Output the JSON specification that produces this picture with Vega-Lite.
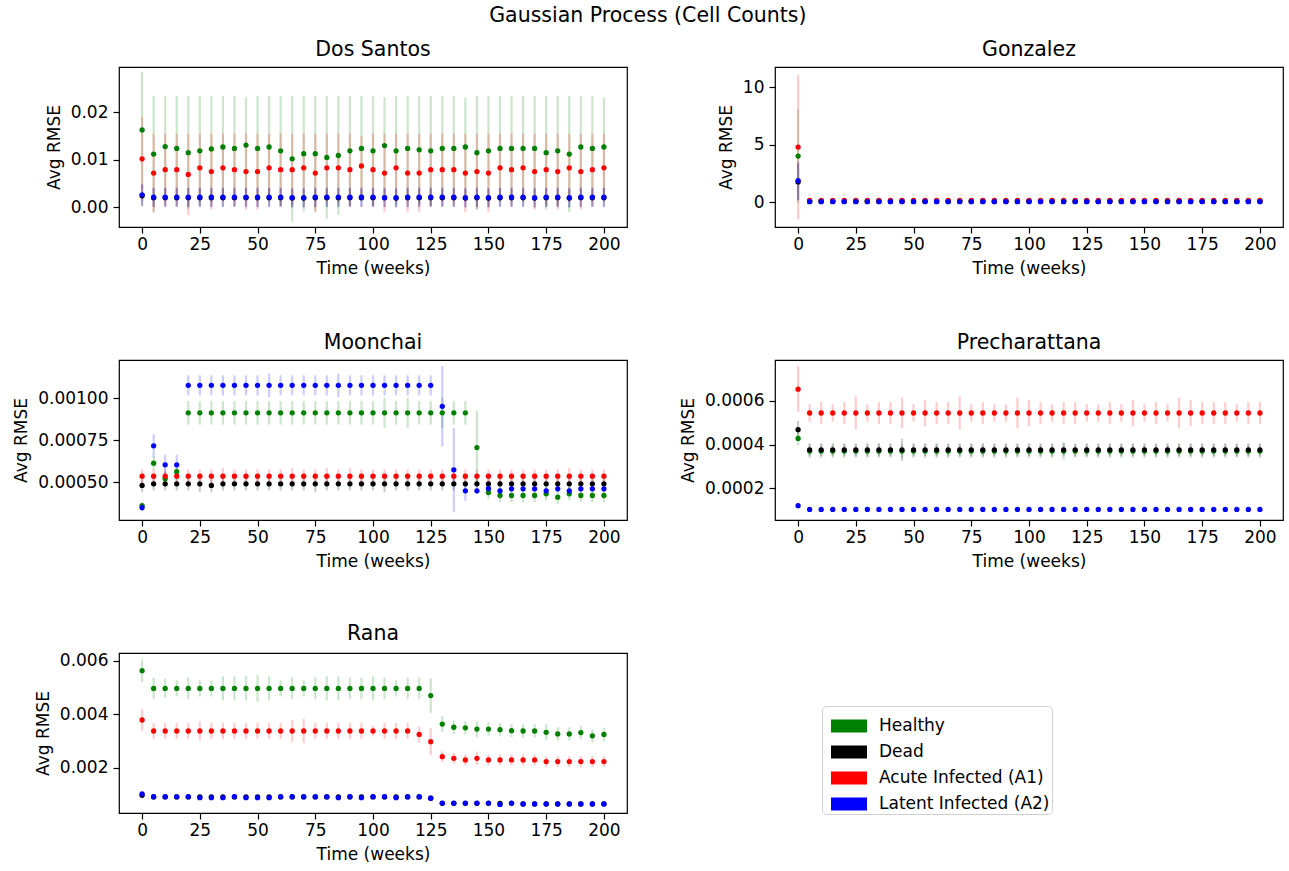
{
"$schema": "https://vega.github.io/schema/vega-lite/v6.json",
"background": "white",
"padding": {"left": 12, "top": 6, "right": 4, "bottom": 5},
"title": {"text": "Gaussian Process (Cell Counts)", "frame": "bounds", "anchor": "middle", "fontSize": 20.5, "fontWeight": "normal", "font": "DejaVu Sans", "color": "black", "offset": -4, "baseline": "alphabetic"},
"datasets": {
"DS": [
{"s":"H","t":0,"m":0.0163,"e":0.0123},{"s":"H","t":5,"m":0.0112,"e":0.0123},{"s":"H","t":10,"m":0.0128,"e":0.0107},{"s":"H","t":15,"m":0.0124,"e":0.0111},{"s":"H","t":20,"m":0.0115,"e":0.012},{"s":"H","t":25,"m":0.0119,"e":0.0116},{"s":"H","t":30,"m":0.0123,"e":0.0112},{"s":"H","t":35,"m":0.0127,"e":0.0108},{"s":"H","t":40,"m":0.0124,"e":0.0111},{"s":"H","t":45,"m":0.0131,"e":0.0101},{"s":"H","t":50,"m":0.0124,"e":0.0111},{"s":"H","t":55,"m":0.0127,"e":0.0108},{"s":"H","t":60,"m":0.0119,"e":0.0116},{"s":"H","t":65,"m":0.0102,"e":0.0133},{"s":"H","t":70,"m":0.0113,"e":0.0122},{"s":"H","t":75,"m":0.0113,"e":0.0122},{"s":"H","t":80,"m":0.0105,"e":0.013},{"s":"H","t":85,"m":0.0109,"e":0.0126},{"s":"H","t":90,"m":0.0119,"e":0.0116},{"s":"H","t":95,"m":0.0124,"e":0.0111},{"s":"H","t":100,"m":0.0119,"e":0.0116},{"s":"H","t":105,"m":0.013,"e":0.0102},{"s":"H","t":110,"m":0.0119,"e":0.0116},{"s":"H","t":115,"m":0.0124,"e":0.0111},{"s":"H","t":120,"m":0.0121,"e":0.0114},{"s":"H","t":125,"m":0.0119,"e":0.0116},{"s":"H","t":130,"m":0.0124,"e":0.0111},{"s":"H","t":135,"m":0.0124,"e":0.0111},{"s":"H","t":140,"m":0.0127,"e":0.0105},{"s":"H","t":145,"m":0.0115,"e":0.012},{"s":"H","t":150,"m":0.0119,"e":0.0116},{"s":"H","t":155,"m":0.0124,"e":0.0111},{"s":"H","t":160,"m":0.0124,"e":0.0111},{"s":"H","t":165,"m":0.0124,"e":0.0111},{"s":"H","t":170,"m":0.0124,"e":0.0111},{"s":"H","t":175,"m":0.0115,"e":0.012},{"s":"H","t":180,"m":0.0119,"e":0.0116},{"s":"H","t":185,"m":0.0112,"e":0.0123},{"s":"H","t":190,"m":0.0127,"e":0.0108},{"s":"H","t":195,"m":0.0124,"e":0.0111},{"s":"H","t":200,"m":0.0127,"e":0.0105},
{"s":"D","t":0,"m":0.0024,"e":0.0022},{"s":"D","t":5,"m":0.002,"e":0.002},{"s":"D","t":10,"m":0.002,"e":0.002},{"s":"D","t":15,"m":0.002,"e":0.002},{"s":"D","t":20,"m":0.002,"e":0.002},{"s":"D","t":25,"m":0.002,"e":0.002},{"s":"D","t":30,"m":0.002,"e":0.002},{"s":"D","t":35,"m":0.002,"e":0.002},{"s":"D","t":40,"m":0.002,"e":0.002},{"s":"D","t":45,"m":0.002,"e":0.002},{"s":"D","t":50,"m":0.002,"e":0.002},{"s":"D","t":55,"m":0.002,"e":0.002},{"s":"D","t":60,"m":0.002,"e":0.002},{"s":"D","t":65,"m":0.0019,"e":0.002},{"s":"D","t":70,"m":0.0019,"e":0.002},{"s":"D","t":75,"m":0.002,"e":0.002},{"s":"D","t":80,"m":0.002,"e":0.002},{"s":"D","t":85,"m":0.002,"e":0.002},{"s":"D","t":90,"m":0.002,"e":0.002},{"s":"D","t":95,"m":0.002,"e":0.002},{"s":"D","t":100,"m":0.002,"e":0.002},{"s":"D","t":105,"m":0.002,"e":0.002},{"s":"D","t":110,"m":0.0019,"e":0.002},{"s":"D","t":115,"m":0.002,"e":0.002},{"s":"D","t":120,"m":0.002,"e":0.002},{"s":"D","t":125,"m":0.002,"e":0.002},{"s":"D","t":130,"m":0.002,"e":0.002},{"s":"D","t":135,"m":0.002,"e":0.002},{"s":"D","t":140,"m":0.0019,"e":0.002},{"s":"D","t":145,"m":0.002,"e":0.002},{"s":"D","t":150,"m":0.0019,"e":0.002},{"s":"D","t":155,"m":0.002,"e":0.002},{"s":"D","t":160,"m":0.002,"e":0.002},{"s":"D","t":165,"m":0.002,"e":0.002},{"s":"D","t":170,"m":0.0019,"e":0.002},{"s":"D","t":175,"m":0.002,"e":0.002},{"s":"D","t":180,"m":0.002,"e":0.002},{"s":"D","t":185,"m":0.0019,"e":0.002},{"s":"D","t":190,"m":0.002,"e":0.002},{"s":"D","t":195,"m":0.002,"e":0.002},{"s":"D","t":200,"m":0.002,"e":0.002},
{"s":"A","t":0,"m":0.0102,"e":0.0089},{"s":"A","t":5,"m":0.0072,"e":0.0083},{"s":"A","t":10,"m":0.0079,"e":0.0076},{"s":"A","t":15,"m":0.0079,"e":0.0076},{"s":"A","t":20,"m":0.0069,"e":0.0086},{"s":"A","t":25,"m":0.0083,"e":0.0072},{"s":"A","t":30,"m":0.0075,"e":0.008},{"s":"A","t":35,"m":0.0083,"e":0.0072},{"s":"A","t":40,"m":0.0079,"e":0.0076},{"s":"A","t":45,"m":0.0075,"e":0.008},{"s":"A","t":50,"m":0.0075,"e":0.008},{"s":"A","t":55,"m":0.0083,"e":0.0072},{"s":"A","t":60,"m":0.0079,"e":0.0076},{"s":"A","t":65,"m":0.0079,"e":0.0076},{"s":"A","t":70,"m":0.0083,"e":0.0072},{"s":"A","t":75,"m":0.0072,"e":0.0083},{"s":"A","t":80,"m":0.0083,"e":0.0072},{"s":"A","t":85,"m":0.0083,"e":0.0072},{"s":"A","t":90,"m":0.0079,"e":0.0076},{"s":"A","t":95,"m":0.0087,"e":0.0063},{"s":"A","t":100,"m":0.0079,"e":0.0076},{"s":"A","t":105,"m":0.0072,"e":0.0083},{"s":"A","t":110,"m":0.0083,"e":0.0072},{"s":"A","t":115,"m":0.0072,"e":0.0083},{"s":"A","t":120,"m":0.0072,"e":0.0083},{"s":"A","t":125,"m":0.0079,"e":0.0076},{"s":"A","t":130,"m":0.0079,"e":0.0076},{"s":"A","t":135,"m":0.0079,"e":0.0076},{"s":"A","t":140,"m":0.0072,"e":0.0083},{"s":"A","t":145,"m":0.0075,"e":0.008},{"s":"A","t":150,"m":0.0072,"e":0.0083},{"s":"A","t":155,"m":0.0083,"e":0.0072},{"s":"A","t":160,"m":0.0079,"e":0.0076},{"s":"A","t":165,"m":0.0083,"e":0.0072},{"s":"A","t":170,"m":0.0075,"e":0.008},{"s":"A","t":175,"m":0.0079,"e":0.0076},{"s":"A","t":180,"m":0.0075,"e":0.008},{"s":"A","t":185,"m":0.0083,"e":0.0072},{"s":"A","t":190,"m":0.0075,"e":0.008},{"s":"A","t":195,"m":0.0079,"e":0.0076},{"s":"A","t":200,"m":0.0083,"e":0.0072},
{"s":"L","t":0,"m":0.0026,"e":0.0023},{"s":"L","t":5,"m":0.0021,"e":0.002},{"s":"L","t":10,"m":0.0021,"e":0.002},{"s":"L","t":15,"m":0.0021,"e":0.002},{"s":"L","t":20,"m":0.0021,"e":0.002},{"s":"L","t":25,"m":0.0021,"e":0.002},{"s":"L","t":30,"m":0.0021,"e":0.002},{"s":"L","t":35,"m":0.0021,"e":0.002},{"s":"L","t":40,"m":0.0021,"e":0.002},{"s":"L","t":45,"m":0.0021,"e":0.002},{"s":"L","t":50,"m":0.0021,"e":0.002},{"s":"L","t":55,"m":0.0021,"e":0.002},{"s":"L","t":60,"m":0.0021,"e":0.002},{"s":"L","t":65,"m":0.002,"e":0.002},{"s":"L","t":70,"m":0.002,"e":0.002},{"s":"L","t":75,"m":0.0021,"e":0.002},{"s":"L","t":80,"m":0.0021,"e":0.002},{"s":"L","t":85,"m":0.0021,"e":0.002},{"s":"L","t":90,"m":0.0021,"e":0.002},{"s":"L","t":95,"m":0.0021,"e":0.002},{"s":"L","t":100,"m":0.0021,"e":0.002},{"s":"L","t":105,"m":0.002,"e":0.002},{"s":"L","t":110,"m":0.002,"e":0.002},{"s":"L","t":115,"m":0.0021,"e":0.002},{"s":"L","t":120,"m":0.0021,"e":0.002},{"s":"L","t":125,"m":0.0021,"e":0.002},{"s":"L","t":130,"m":0.0021,"e":0.002},{"s":"L","t":135,"m":0.0021,"e":0.002},{"s":"L","t":140,"m":0.002,"e":0.002},{"s":"L","t":145,"m":0.0021,"e":0.002},{"s":"L","t":150,"m":0.002,"e":0.002},{"s":"L","t":155,"m":0.0021,"e":0.002},{"s":"L","t":160,"m":0.0021,"e":0.002},{"s":"L","t":165,"m":0.0021,"e":0.002},{"s":"L","t":170,"m":0.002,"e":0.002},{"s":"L","t":175,"m":0.0021,"e":0.002},{"s":"L","t":180,"m":0.0021,"e":0.002},{"s":"L","t":185,"m":0.002,"e":0.002},{"s":"L","t":190,"m":0.0021,"e":0.002},{"s":"L","t":195,"m":0.0021,"e":0.002},{"s":"L","t":200,"m":0.0021,"e":0.002}
],
"GZ": [
{"s":"H","t":0,"m":4.0,"e":4.05},{"s":"H","t":5,"m":0.1,"e":0.05},{"s":"H","t":10,"m":0.1,"e":0.05},{"s":"H","t":15,"m":0.1,"e":0.05},{"s":"H","t":20,"m":0.1,"e":0.05},{"s":"H","t":25,"m":0.1,"e":0.05},{"s":"H","t":30,"m":0.1,"e":0.05},{"s":"H","t":35,"m":0.1,"e":0.05},{"s":"H","t":40,"m":0.1,"e":0.05},{"s":"H","t":45,"m":0.1,"e":0.05},{"s":"H","t":50,"m":0.1,"e":0.05},{"s":"H","t":55,"m":0.1,"e":0.05},{"s":"H","t":60,"m":0.1,"e":0.05},{"s":"H","t":65,"m":0.1,"e":0.05},{"s":"H","t":70,"m":0.1,"e":0.05},{"s":"H","t":75,"m":0.1,"e":0.05},{"s":"H","t":80,"m":0.1,"e":0.05},{"s":"H","t":85,"m":0.1,"e":0.05},{"s":"H","t":90,"m":0.1,"e":0.05},{"s":"H","t":95,"m":0.1,"e":0.05},{"s":"H","t":100,"m":0.1,"e":0.05},{"s":"H","t":105,"m":0.1,"e":0.05},{"s":"H","t":110,"m":0.1,"e":0.05},{"s":"H","t":115,"m":0.1,"e":0.05},{"s":"H","t":120,"m":0.1,"e":0.05},{"s":"H","t":125,"m":0.1,"e":0.05},{"s":"H","t":130,"m":0.1,"e":0.05},{"s":"H","t":135,"m":0.1,"e":0.05},{"s":"H","t":140,"m":0.1,"e":0.05},{"s":"H","t":145,"m":0.1,"e":0.05},{"s":"H","t":150,"m":0.1,"e":0.05},{"s":"H","t":155,"m":0.1,"e":0.05},{"s":"H","t":160,"m":0.1,"e":0.05},{"s":"H","t":165,"m":0.1,"e":0.05},{"s":"H","t":170,"m":0.1,"e":0.05},{"s":"H","t":175,"m":0.1,"e":0.05},{"s":"H","t":180,"m":0.1,"e":0.05},{"s":"H","t":185,"m":0.1,"e":0.05},{"s":"H","t":190,"m":0.1,"e":0.05},{"s":"H","t":195,"m":0.1,"e":0.05},{"s":"H","t":200,"m":0.1,"e":0.05},
{"s":"D","t":0,"m":1.75,"e":1.6},{"s":"D","t":5,"m":0.05,"e":0.03},{"s":"D","t":10,"m":0.05,"e":0.03},{"s":"D","t":15,"m":0.05,"e":0.03},{"s":"D","t":20,"m":0.05,"e":0.03},{"s":"D","t":25,"m":0.05,"e":0.03},{"s":"D","t":30,"m":0.05,"e":0.03},{"s":"D","t":35,"m":0.05,"e":0.03},{"s":"D","t":40,"m":0.05,"e":0.03},{"s":"D","t":45,"m":0.05,"e":0.03},{"s":"D","t":50,"m":0.05,"e":0.03},{"s":"D","t":55,"m":0.05,"e":0.03},{"s":"D","t":60,"m":0.05,"e":0.03},{"s":"D","t":65,"m":0.05,"e":0.03},{"s":"D","t":70,"m":0.05,"e":0.03},{"s":"D","t":75,"m":0.05,"e":0.03},{"s":"D","t":80,"m":0.05,"e":0.03},{"s":"D","t":85,"m":0.05,"e":0.03},{"s":"D","t":90,"m":0.05,"e":0.03},{"s":"D","t":95,"m":0.05,"e":0.03},{"s":"D","t":100,"m":0.05,"e":0.03},{"s":"D","t":105,"m":0.05,"e":0.03},{"s":"D","t":110,"m":0.05,"e":0.03},{"s":"D","t":115,"m":0.05,"e":0.03},{"s":"D","t":120,"m":0.05,"e":0.03},{"s":"D","t":125,"m":0.05,"e":0.03},{"s":"D","t":130,"m":0.05,"e":0.03},{"s":"D","t":135,"m":0.05,"e":0.03},{"s":"D","t":140,"m":0.05,"e":0.03},{"s":"D","t":145,"m":0.05,"e":0.03},{"s":"D","t":150,"m":0.05,"e":0.03},{"s":"D","t":155,"m":0.05,"e":0.03},{"s":"D","t":160,"m":0.05,"e":0.03},{"s":"D","t":165,"m":0.05,"e":0.03},{"s":"D","t":170,"m":0.05,"e":0.03},{"s":"D","t":175,"m":0.05,"e":0.03},{"s":"D","t":180,"m":0.05,"e":0.03},{"s":"D","t":185,"m":0.05,"e":0.03},{"s":"D","t":190,"m":0.05,"e":0.03},{"s":"D","t":195,"m":0.05,"e":0.03},{"s":"D","t":200,"m":0.05,"e":0.03},
{"s":"A","t":0,"m":4.78,"e":6.3},{"s":"A","t":5,"m":0.15,"e":0.05},{"s":"A","t":10,"m":0.15,"e":0.05},{"s":"A","t":15,"m":0.15,"e":0.05},{"s":"A","t":20,"m":0.15,"e":0.05},{"s":"A","t":25,"m":0.15,"e":0.05},{"s":"A","t":30,"m":0.15,"e":0.05},{"s":"A","t":35,"m":0.15,"e":0.05},{"s":"A","t":40,"m":0.15,"e":0.05},{"s":"A","t":45,"m":0.15,"e":0.05},{"s":"A","t":50,"m":0.15,"e":0.05},{"s":"A","t":55,"m":0.15,"e":0.05},{"s":"A","t":60,"m":0.15,"e":0.05},{"s":"A","t":65,"m":0.15,"e":0.05},{"s":"A","t":70,"m":0.15,"e":0.05},{"s":"A","t":75,"m":0.15,"e":0.05},{"s":"A","t":80,"m":0.15,"e":0.05},{"s":"A","t":85,"m":0.15,"e":0.05},{"s":"A","t":90,"m":0.15,"e":0.05},{"s":"A","t":95,"m":0.15,"e":0.05},{"s":"A","t":100,"m":0.15,"e":0.05},{"s":"A","t":105,"m":0.15,"e":0.05},{"s":"A","t":110,"m":0.15,"e":0.05},{"s":"A","t":115,"m":0.15,"e":0.05},{"s":"A","t":120,"m":0.15,"e":0.05},{"s":"A","t":125,"m":0.15,"e":0.05},{"s":"A","t":130,"m":0.15,"e":0.05},{"s":"A","t":135,"m":0.15,"e":0.05},{"s":"A","t":140,"m":0.15,"e":0.05},{"s":"A","t":145,"m":0.15,"e":0.05},{"s":"A","t":150,"m":0.15,"e":0.05},{"s":"A","t":155,"m":0.15,"e":0.05},{"s":"A","t":160,"m":0.15,"e":0.05},{"s":"A","t":165,"m":0.15,"e":0.05},{"s":"A","t":170,"m":0.15,"e":0.05},{"s":"A","t":175,"m":0.15,"e":0.05},{"s":"A","t":180,"m":0.15,"e":0.05},{"s":"A","t":185,"m":0.15,"e":0.05},{"s":"A","t":190,"m":0.15,"e":0.05},{"s":"A","t":195,"m":0.15,"e":0.05},{"s":"A","t":200,"m":0.15,"e":0.05},
{"s":"L","t":0,"m":1.85,"e":1.65},{"s":"L","t":5,"m":0.03,"e":0.02},{"s":"L","t":10,"m":0.03,"e":0.02},{"s":"L","t":15,"m":0.03,"e":0.02},{"s":"L","t":20,"m":0.03,"e":0.02},{"s":"L","t":25,"m":0.03,"e":0.02},{"s":"L","t":30,"m":0.03,"e":0.02},{"s":"L","t":35,"m":0.03,"e":0.02},{"s":"L","t":40,"m":0.03,"e":0.02},{"s":"L","t":45,"m":0.03,"e":0.02},{"s":"L","t":50,"m":0.03,"e":0.02},{"s":"L","t":55,"m":0.03,"e":0.02},{"s":"L","t":60,"m":0.03,"e":0.02},{"s":"L","t":65,"m":0.03,"e":0.02},{"s":"L","t":70,"m":0.03,"e":0.02},{"s":"L","t":75,"m":0.03,"e":0.02},{"s":"L","t":80,"m":0.03,"e":0.02},{"s":"L","t":85,"m":0.03,"e":0.02},{"s":"L","t":90,"m":0.03,"e":0.02},{"s":"L","t":95,"m":0.03,"e":0.02},{"s":"L","t":100,"m":0.03,"e":0.02},{"s":"L","t":105,"m":0.03,"e":0.02},{"s":"L","t":110,"m":0.03,"e":0.02},{"s":"L","t":115,"m":0.03,"e":0.02},{"s":"L","t":120,"m":0.03,"e":0.02},{"s":"L","t":125,"m":0.03,"e":0.02},{"s":"L","t":130,"m":0.03,"e":0.02},{"s":"L","t":135,"m":0.03,"e":0.02},{"s":"L","t":140,"m":0.03,"e":0.02},{"s":"L","t":145,"m":0.03,"e":0.02},{"s":"L","t":150,"m":0.03,"e":0.02},{"s":"L","t":155,"m":0.03,"e":0.02},{"s":"L","t":160,"m":0.03,"e":0.02},{"s":"L","t":165,"m":0.03,"e":0.02},{"s":"L","t":170,"m":0.03,"e":0.02},{"s":"L","t":175,"m":0.03,"e":0.02},{"s":"L","t":180,"m":0.03,"e":0.02},{"s":"L","t":185,"m":0.03,"e":0.02},{"s":"L","t":190,"m":0.03,"e":0.02},{"s":"L","t":195,"m":0.03,"e":0.02},{"s":"L","t":200,"m":0.03,"e":0.02}
],
"MC": [
{"s":"H","t":0,"m":0.00036,"e":0.00002},{"s":"H","t":5,"m":0.000613,"e":0.00004},{"s":"H","t":10,"m":0.00052,"e":0.00004},{"s":"H","t":15,"m":0.000562,"e":0.00004},{"s":"H","t":20,"m":0.000913,"e":0.00007},{"s":"H","t":25,"m":0.000913,"e":0.00007},{"s":"H","t":30,"m":0.000913,"e":0.00007},{"s":"H","t":35,"m":0.000913,"e":0.00007},{"s":"H","t":40,"m":0.000913,"e":0.00007},{"s":"H","t":45,"m":0.000913,"e":0.00007},{"s":"H","t":50,"m":0.000913,"e":0.00007},{"s":"H","t":55,"m":0.000913,"e":0.00007},{"s":"H","t":60,"m":0.000913,"e":0.00007},{"s":"H","t":65,"m":0.000913,"e":0.00007},{"s":"H","t":70,"m":0.000913,"e":0.00007},{"s":"H","t":75,"m":0.000913,"e":0.00007},{"s":"H","t":80,"m":0.000913,"e":0.00007},{"s":"H","t":85,"m":0.000913,"e":0.00007},{"s":"H","t":90,"m":0.000913,"e":0.00007},{"s":"H","t":95,"m":0.000913,"e":0.00007},{"s":"H","t":100,"m":0.000913,"e":0.00007},{"s":"H","t":105,"m":0.000913,"e":0.00009},{"s":"H","t":110,"m":0.000913,"e":0.00007},{"s":"H","t":115,"m":0.000913,"e":0.00009},{"s":"H","t":120,"m":0.000913,"e":0.00007},{"s":"H","t":125,"m":0.000913,"e":0.00007},{"s":"H","t":130,"m":0.000913,"e":0.00009},{"s":"H","t":135,"m":0.000913,"e":0.00007},{"s":"H","t":140,"m":0.000913,"e":0.00007},{"s":"H","t":145,"m":0.000706,"e":0.00022},{"s":"H","t":150,"m":0.000438,"e":0.00004},{"s":"H","t":155,"m":0.00042,"e":0.00004},{"s":"H","t":160,"m":0.00042,"e":0.00004},{"s":"H","t":165,"m":0.00042,"e":0.00004},{"s":"H","t":170,"m":0.00042,"e":0.00004},{"s":"H","t":175,"m":0.00043,"e":0.00004},{"s":"H","t":180,"m":0.00041,"e":0.00004},{"s":"H","t":185,"m":0.00043,"e":0.00004},{"s":"H","t":190,"m":0.00042,"e":0.00004},{"s":"H","t":195,"m":0.00042,"e":0.00004},{"s":"H","t":200,"m":0.00042,"e":0.00004},
{"s":"D","t":0,"m":0.00048,"e":0.00004},{"s":"D","t":5,"m":0.00049,"e":0.00004},{"s":"D","t":10,"m":0.00049,"e":0.00004},{"s":"D","t":15,"m":0.00049,"e":0.00004},{"s":"D","t":20,"m":0.00049,"e":0.00004},{"s":"D","t":25,"m":0.00049,"e":0.00005},{"s":"D","t":30,"m":0.00048,"e":0.00004},{"s":"D","t":35,"m":0.00049,"e":0.00004},{"s":"D","t":40,"m":0.00049,"e":0.00004},{"s":"D","t":45,"m":0.00049,"e":0.00004},{"s":"D","t":50,"m":0.00049,"e":0.00004},{"s":"D","t":55,"m":0.00049,"e":0.00004},{"s":"D","t":60,"m":0.00049,"e":0.00004},{"s":"D","t":65,"m":0.00049,"e":0.00004},{"s":"D","t":70,"m":0.00049,"e":0.00004},{"s":"D","t":75,"m":0.00049,"e":0.00005},{"s":"D","t":80,"m":0.00049,"e":0.00004},{"s":"D","t":85,"m":0.00049,"e":0.00004},{"s":"D","t":90,"m":0.00049,"e":0.00004},{"s":"D","t":95,"m":0.00049,"e":0.00004},{"s":"D","t":100,"m":0.00049,"e":0.00004},{"s":"D","t":105,"m":0.00049,"e":0.00005},{"s":"D","t":110,"m":0.00049,"e":0.00004},{"s":"D","t":115,"m":0.00049,"e":0.00004},{"s":"D","t":120,"m":0.00049,"e":0.00004},{"s":"D","t":125,"m":0.00049,"e":0.00004},{"s":"D","t":130,"m":0.00049,"e":0.00004},{"s":"D","t":135,"m":0.00049,"e":0.00004},{"s":"D","t":140,"m":0.00049,"e":0.00004},{"s":"D","t":145,"m":0.00049,"e":0.00004},{"s":"D","t":150,"m":0.00049,"e":0.00004},{"s":"D","t":155,"m":0.00049,"e":0.00004},{"s":"D","t":160,"m":0.00049,"e":0.00004},{"s":"D","t":165,"m":0.00049,"e":0.00004},{"s":"D","t":170,"m":0.00049,"e":0.00004},{"s":"D","t":175,"m":0.00049,"e":0.00004},{"s":"D","t":180,"m":0.00049,"e":0.00004},{"s":"D","t":185,"m":0.00049,"e":0.00004},{"s":"D","t":190,"m":0.00049,"e":0.00004},{"s":"D","t":195,"m":0.00049,"e":0.00004},{"s":"D","t":200,"m":0.00049,"e":0.00004},
{"s":"A","t":0,"m":0.000535,"e":0.00004},{"s":"A","t":5,"m":0.000535,"e":0.00004},{"s":"A","t":10,"m":0.000535,"e":0.00004},{"s":"A","t":15,"m":0.000535,"e":0.00004},{"s":"A","t":20,"m":0.000535,"e":0.00004},{"s":"A","t":25,"m":0.000535,"e":0.00004},{"s":"A","t":30,"m":0.000535,"e":0.00004},{"s":"A","t":35,"m":0.000535,"e":0.00005},{"s":"A","t":40,"m":0.000535,"e":0.00004},{"s":"A","t":45,"m":0.000535,"e":0.00004},{"s":"A","t":50,"m":0.000535,"e":0.00004},{"s":"A","t":55,"m":0.000535,"e":0.00004},{"s":"A","t":60,"m":0.000535,"e":0.00004},{"s":"A","t":65,"m":0.000535,"e":0.00005},{"s":"A","t":70,"m":0.000535,"e":0.00004},{"s":"A","t":75,"m":0.000535,"e":0.00004},{"s":"A","t":80,"m":0.000535,"e":0.00005},{"s":"A","t":85,"m":0.000535,"e":0.00004},{"s":"A","t":90,"m":0.000535,"e":0.00005},{"s":"A","t":95,"m":0.000535,"e":0.00004},{"s":"A","t":100,"m":0.000535,"e":0.00004},{"s":"A","t":105,"m":0.000535,"e":0.00004},{"s":"A","t":110,"m":0.000535,"e":0.00004},{"s":"A","t":115,"m":0.000535,"e":0.00004},{"s":"A","t":120,"m":0.000535,"e":0.00004},{"s":"A","t":125,"m":0.000535,"e":0.00004},{"s":"A","t":130,"m":0.000535,"e":0.00004},{"s":"A","t":135,"m":0.000535,"e":0.00004},{"s":"A","t":140,"m":0.000535,"e":0.00004},{"s":"A","t":145,"m":0.000535,"e":0.00004},{"s":"A","t":150,"m":0.000535,"e":0.00004},{"s":"A","t":155,"m":0.000535,"e":0.00004},{"s":"A","t":160,"m":0.000535,"e":0.00004},{"s":"A","t":165,"m":0.000535,"e":0.00004},{"s":"A","t":170,"m":0.000535,"e":0.00004},{"s":"A","t":175,"m":0.000535,"e":0.00004},{"s":"A","t":180,"m":0.000535,"e":0.00004},{"s":"A","t":185,"m":0.000535,"e":0.00005},{"s":"A","t":190,"m":0.000535,"e":0.00004},{"s":"A","t":195,"m":0.000535,"e":0.00004},{"s":"A","t":200,"m":0.000535,"e":0.00004},
{"s":"L","t":0,"m":0.000347,"e":0.00002},{"s":"L","t":5,"m":0.000716,"e":0.00007},{"s":"L","t":10,"m":0.000603,"e":0.00006},{"s":"L","t":15,"m":0.000603,"e":0.00006},{"s":"L","t":20,"m":0.001077,"e":0.00006},{"s":"L","t":25,"m":0.001077,"e":0.00006},{"s":"L","t":30,"m":0.001077,"e":0.00006},{"s":"L","t":35,"m":0.001077,"e":0.00006},{"s":"L","t":40,"m":0.001077,"e":0.00006},{"s":"L","t":45,"m":0.001077,"e":0.00006},{"s":"L","t":50,"m":0.001077,"e":0.00006},{"s":"L","t":55,"m":0.001077,"e":0.00007},{"s":"L","t":60,"m":0.001077,"e":0.00006},{"s":"L","t":65,"m":0.001077,"e":0.00006},{"s":"L","t":70,"m":0.001077,"e":0.00006},{"s":"L","t":75,"m":0.001077,"e":0.00006},{"s":"L","t":80,"m":0.001077,"e":0.00006},{"s":"L","t":85,"m":0.001077,"e":0.00007},{"s":"L","t":90,"m":0.001077,"e":0.00006},{"s":"L","t":95,"m":0.001077,"e":0.00006},{"s":"L","t":100,"m":0.001077,"e":0.00006},{"s":"L","t":105,"m":0.001077,"e":0.00006},{"s":"L","t":110,"m":0.001077,"e":0.00006},{"s":"L","t":115,"m":0.001077,"e":0.00006},{"s":"L","t":120,"m":0.001077,"e":0.00006},{"s":"L","t":125,"m":0.001077,"e":0.00006},{"s":"L","t":130,"m":0.000952,"e":0.00024},{"s":"L","t":135,"m":0.000573,"e":0.00025},{"s":"L","t":140,"m":0.000448,"e":0.00006},{"s":"L","t":145,"m":0.000448,"e":0.00002},{"s":"L","t":150,"m":0.000462,"e":0.00002},{"s":"L","t":155,"m":0.000448,"e":0.00002},{"s":"L","t":160,"m":0.00046,"e":0.00002},{"s":"L","t":165,"m":0.00046,"e":0.00002},{"s":"L","t":170,"m":0.00046,"e":0.00002},{"s":"L","t":175,"m":0.000448,"e":0.00002},{"s":"L","t":180,"m":0.00046,"e":0.00002},{"s":"L","t":185,"m":0.000448,"e":0.00002},{"s":"L","t":190,"m":0.00046,"e":0.00002},{"s":"L","t":195,"m":0.00046,"e":0.00002},{"s":"L","t":200,"m":0.00046,"e":0.00002}
],
"PR": [
{"s":"H","t":0,"m":0.000428,"e":0.00003},{"s":"H","t":5,"m":0.00037,"e":0.00003},{"s":"H","t":10,"m":0.00037,"e":0.00003},{"s":"H","t":15,"m":0.00037,"e":0.00003},{"s":"H","t":20,"m":0.00037,"e":0.00003},{"s":"H","t":25,"m":0.00037,"e":0.00003},{"s":"H","t":30,"m":0.00037,"e":0.00003},{"s":"H","t":35,"m":0.00037,"e":0.00003},{"s":"H","t":40,"m":0.00037,"e":0.00003},{"s":"H","t":45,"m":0.00037,"e":0.00003},{"s":"H","t":50,"m":0.00037,"e":0.00003},{"s":"H","t":55,"m":0.00037,"e":0.00003},{"s":"H","t":60,"m":0.00037,"e":0.00003},{"s":"H","t":65,"m":0.00037,"e":0.00003},{"s":"H","t":70,"m":0.00037,"e":0.00003},{"s":"H","t":75,"m":0.00037,"e":0.00003},{"s":"H","t":80,"m":0.00037,"e":0.00003},{"s":"H","t":85,"m":0.00037,"e":0.00003},{"s":"H","t":90,"m":0.00037,"e":0.00003},{"s":"H","t":95,"m":0.00037,"e":0.00003},{"s":"H","t":100,"m":0.00037,"e":0.00003},{"s":"H","t":105,"m":0.00037,"e":0.00003},{"s":"H","t":110,"m":0.00037,"e":0.00003},{"s":"H","t":115,"m":0.00037,"e":0.00004},{"s":"H","t":120,"m":0.00037,"e":0.00003},{"s":"H","t":125,"m":0.00037,"e":0.00003},{"s":"H","t":130,"m":0.00037,"e":0.00003},{"s":"H","t":135,"m":0.00037,"e":0.00003},{"s":"H","t":140,"m":0.00037,"e":0.00003},{"s":"H","t":145,"m":0.00037,"e":0.00003},{"s":"H","t":150,"m":0.00037,"e":0.00003},{"s":"H","t":155,"m":0.00037,"e":0.00003},{"s":"H","t":160,"m":0.00037,"e":0.00003},{"s":"H","t":165,"m":0.00037,"e":0.00003},{"s":"H","t":170,"m":0.00037,"e":0.00003},{"s":"H","t":175,"m":0.00037,"e":0.00003},{"s":"H","t":180,"m":0.00037,"e":0.00003},{"s":"H","t":185,"m":0.00037,"e":0.00003},{"s":"H","t":190,"m":0.00037,"e":0.00003},{"s":"H","t":195,"m":0.00037,"e":0.00003},{"s":"H","t":200,"m":0.00037,"e":0.00003},
{"s":"D","t":0,"m":0.000468,"e":0.00004},{"s":"D","t":5,"m":0.000376,"e":0.00003},{"s":"D","t":10,"m":0.000376,"e":0.00003},{"s":"D","t":15,"m":0.000376,"e":0.00003},{"s":"D","t":20,"m":0.000376,"e":0.00003},{"s":"D","t":25,"m":0.000376,"e":0.00003},{"s":"D","t":30,"m":0.000376,"e":0.00003},{"s":"D","t":35,"m":0.000376,"e":0.00003},{"s":"D","t":40,"m":0.000376,"e":0.00003},{"s":"D","t":45,"m":0.000376,"e":0.00005},{"s":"D","t":50,"m":0.000376,"e":0.00003},{"s":"D","t":55,"m":0.000376,"e":0.00003},{"s":"D","t":60,"m":0.000376,"e":0.00003},{"s":"D","t":65,"m":0.000376,"e":0.00003},{"s":"D","t":70,"m":0.000376,"e":0.00003},{"s":"D","t":75,"m":0.000376,"e":0.00003},{"s":"D","t":80,"m":0.000376,"e":0.00003},{"s":"D","t":85,"m":0.000376,"e":0.00003},{"s":"D","t":90,"m":0.000376,"e":0.00003},{"s":"D","t":95,"m":0.000376,"e":0.00003},{"s":"D","t":100,"m":0.000376,"e":0.00003},{"s":"D","t":105,"m":0.000376,"e":0.00003},{"s":"D","t":110,"m":0.000376,"e":0.00003},{"s":"D","t":115,"m":0.000376,"e":0.00003},{"s":"D","t":120,"m":0.000376,"e":0.00003},{"s":"D","t":125,"m":0.000376,"e":0.00003},{"s":"D","t":130,"m":0.000376,"e":0.00003},{"s":"D","t":135,"m":0.000376,"e":0.00003},{"s":"D","t":140,"m":0.000376,"e":0.00003},{"s":"D","t":145,"m":0.000376,"e":0.00003},{"s":"D","t":150,"m":0.000376,"e":0.00003},{"s":"D","t":155,"m":0.000376,"e":0.00003},{"s":"D","t":160,"m":0.000376,"e":0.00003},{"s":"D","t":165,"m":0.000376,"e":0.00003},{"s":"D","t":170,"m":0.000376,"e":0.00003},{"s":"D","t":175,"m":0.000376,"e":0.00003},{"s":"D","t":180,"m":0.000376,"e":0.00003},{"s":"D","t":185,"m":0.000376,"e":0.00003},{"s":"D","t":190,"m":0.000376,"e":0.00003},{"s":"D","t":195,"m":0.000376,"e":0.00003},{"s":"D","t":200,"m":0.000376,"e":0.00003},
{"s":"A","t":0,"m":0.000653,"e":0.000104},{"s":"A","t":5,"m":0.000544,"e":0.00004},{"s":"A","t":10,"m":0.000544,"e":0.00005},{"s":"A","t":15,"m":0.000544,"e":0.00004},{"s":"A","t":20,"m":0.000544,"e":0.00005},{"s":"A","t":25,"m":0.000544,"e":0.000075},{"s":"A","t":30,"m":0.000544,"e":0.00004},{"s":"A","t":35,"m":0.000544,"e":0.00005},{"s":"A","t":40,"m":0.000544,"e":0.00005},{"s":"A","t":45,"m":0.000544,"e":0.00007},{"s":"A","t":50,"m":0.000544,"e":0.00004},{"s":"A","t":55,"m":0.000544,"e":0.00006},{"s":"A","t":60,"m":0.000544,"e":0.00005},{"s":"A","t":65,"m":0.000544,"e":0.00005},{"s":"A","t":70,"m":0.000544,"e":0.000075},{"s":"A","t":75,"m":0.000544,"e":0.00004},{"s":"A","t":80,"m":0.000544,"e":0.00005},{"s":"A","t":85,"m":0.000544,"e":0.00004},{"s":"A","t":90,"m":0.000544,"e":0.00004},{"s":"A","t":95,"m":0.000544,"e":0.00007},{"s":"A","t":100,"m":0.000544,"e":0.00006},{"s":"A","t":105,"m":0.000544,"e":0.00005},{"s":"A","t":110,"m":0.000544,"e":0.00004},{"s":"A","t":115,"m":0.000544,"e":0.00005},{"s":"A","t":120,"m":0.000544,"e":0.00005},{"s":"A","t":125,"m":0.000544,"e":0.00004},{"s":"A","t":130,"m":0.000544,"e":0.00004},{"s":"A","t":135,"m":0.000544,"e":0.00005},{"s":"A","t":140,"m":0.000544,"e":0.00004},{"s":"A","t":145,"m":0.000544,"e":0.00006},{"s":"A","t":150,"m":0.000544,"e":0.00004},{"s":"A","t":155,"m":0.000544,"e":0.00005},{"s":"A","t":160,"m":0.000544,"e":0.00004},{"s":"A","t":165,"m":0.000544,"e":0.00007},{"s":"A","t":170,"m":0.000544,"e":0.00006},{"s":"A","t":175,"m":0.000544,"e":0.00005},{"s":"A","t":180,"m":0.000544,"e":0.00005},{"s":"A","t":185,"m":0.000544,"e":0.00005},{"s":"A","t":190,"m":0.000544,"e":0.00004},{"s":"A","t":195,"m":0.000544,"e":0.00005},{"s":"A","t":200,"m":0.000544,"e":0.00005},
{"s":"L","t":0,"m":0.000121,"e":0.00001},{"s":"L","t":5,"m":0.000104,"e":0.000005},{"s":"L","t":10,"m":0.000104,"e":0.000005},{"s":"L","t":15,"m":0.000104,"e":0.000005},{"s":"L","t":20,"m":0.000104,"e":0.000005},{"s":"L","t":25,"m":0.000104,"e":0.000005},{"s":"L","t":30,"m":0.000104,"e":0.000005},{"s":"L","t":35,"m":0.000104,"e":0.000005},{"s":"L","t":40,"m":0.000104,"e":0.000005},{"s":"L","t":45,"m":0.000104,"e":0.000005},{"s":"L","t":50,"m":0.000104,"e":0.000005},{"s":"L","t":55,"m":0.000104,"e":0.000005},{"s":"L","t":60,"m":0.000104,"e":0.000005},{"s":"L","t":65,"m":0.000104,"e":0.000005},{"s":"L","t":70,"m":0.000104,"e":0.000005},{"s":"L","t":75,"m":0.000104,"e":0.000005},{"s":"L","t":80,"m":0.000104,"e":0.000005},{"s":"L","t":85,"m":0.000104,"e":0.000005},{"s":"L","t":90,"m":0.000104,"e":0.000005},{"s":"L","t":95,"m":0.000104,"e":0.000005},{"s":"L","t":100,"m":0.000104,"e":0.000005},{"s":"L","t":105,"m":0.000104,"e":0.000005},{"s":"L","t":110,"m":0.000104,"e":0.000005},{"s":"L","t":115,"m":0.000104,"e":0.000005},{"s":"L","t":120,"m":0.000104,"e":0.000005},{"s":"L","t":125,"m":0.000104,"e":0.000005},{"s":"L","t":130,"m":0.000104,"e":0.000005},{"s":"L","t":135,"m":0.000104,"e":0.000005},{"s":"L","t":140,"m":0.000104,"e":0.000005},{"s":"L","t":145,"m":0.000104,"e":0.000005},{"s":"L","t":150,"m":0.000104,"e":0.000005},{"s":"L","t":155,"m":0.000104,"e":0.000005},{"s":"L","t":160,"m":0.000104,"e":0.000005},{"s":"L","t":165,"m":0.000104,"e":0.000005},{"s":"L","t":170,"m":0.000104,"e":0.000005},{"s":"L","t":175,"m":0.000104,"e":0.000005},{"s":"L","t":180,"m":0.000104,"e":0.000005},{"s":"L","t":185,"m":0.000104,"e":0.000005},{"s":"L","t":190,"m":0.000104,"e":0.000005},{"s":"L","t":195,"m":0.000104,"e":0.000005},{"s":"L","t":200,"m":0.000104,"e":0.000005}
],
"RN": [
{"s":"H","t":0,"m":0.00563,"e":0.00042},{"s":"H","t":5,"m":0.00497,"e":0.0004},{"s":"H","t":10,"m":0.00497,"e":0.00035},{"s":"H","t":15,"m":0.00497,"e":0.0003},{"s":"H","t":20,"m":0.00497,"e":0.0004},{"s":"H","t":25,"m":0.00497,"e":0.0003},{"s":"H","t":30,"m":0.00497,"e":0.0003},{"s":"H","t":35,"m":0.00497,"e":0.00045},{"s":"H","t":40,"m":0.00497,"e":0.00045},{"s":"H","t":45,"m":0.00497,"e":0.00045},{"s":"H","t":50,"m":0.00497,"e":0.0005},{"s":"H","t":55,"m":0.00497,"e":0.00045},{"s":"H","t":60,"m":0.00497,"e":0.0003},{"s":"H","t":65,"m":0.00497,"e":0.0004},{"s":"H","t":70,"m":0.00497,"e":0.0003},{"s":"H","t":75,"m":0.00497,"e":0.0004},{"s":"H","t":80,"m":0.00497,"e":0.00045},{"s":"H","t":85,"m":0.00497,"e":0.00045},{"s":"H","t":90,"m":0.00497,"e":0.0004},{"s":"H","t":95,"m":0.00497,"e":0.0004},{"s":"H","t":100,"m":0.00497,"e":0.00045},{"s":"H","t":105,"m":0.00497,"e":0.0004},{"s":"H","t":110,"m":0.00497,"e":0.0003},{"s":"H","t":115,"m":0.00497,"e":0.0004},{"s":"H","t":120,"m":0.00497,"e":0.0004},{"s":"H","t":125,"m":0.0047,"e":0.00065},{"s":"H","t":130,"m":0.00364,"e":0.0003},{"s":"H","t":135,"m":0.00352,"e":0.00025},{"s":"H","t":140,"m":0.0035,"e":0.00025},{"s":"H","t":145,"m":0.00345,"e":0.0003},{"s":"H","t":150,"m":0.00345,"e":0.00025},{"s":"H","t":155,"m":0.00343,"e":0.00025},{"s":"H","t":160,"m":0.00339,"e":0.00025},{"s":"H","t":165,"m":0.00338,"e":0.00025},{"s":"H","t":170,"m":0.00338,"e":0.00025},{"s":"H","t":175,"m":0.00333,"e":0.0003},{"s":"H","t":180,"m":0.00327,"e":0.00025},{"s":"H","t":185,"m":0.00327,"e":0.00025},{"s":"H","t":190,"m":0.00332,"e":0.00025},{"s":"H","t":195,"m":0.0032,"e":0.00025},{"s":"H","t":200,"m":0.00325,"e":0.00025},
{"s":"D","t":0,"m":0.00098,"e":0.00004},{"s":"D","t":5,"m":0.00092,"e":0.00003},{"s":"D","t":10,"m":0.00092,"e":0.00003},{"s":"D","t":15,"m":0.00092,"e":0.00003},{"s":"D","t":20,"m":0.00092,"e":0.00003},{"s":"D","t":25,"m":0.00092,"e":0.00003},{"s":"D","t":30,"m":0.00092,"e":0.00003},{"s":"D","t":35,"m":0.00092,"e":0.00003},{"s":"D","t":40,"m":0.00092,"e":0.00003},{"s":"D","t":45,"m":0.00092,"e":0.00003},{"s":"D","t":50,"m":0.00092,"e":0.00003},{"s":"D","t":55,"m":0.00092,"e":0.00003},{"s":"D","t":60,"m":0.00092,"e":0.00003},{"s":"D","t":65,"m":0.00092,"e":0.00003},{"s":"D","t":70,"m":0.00092,"e":0.00003},{"s":"D","t":75,"m":0.00092,"e":0.00003},{"s":"D","t":80,"m":0.00092,"e":0.00003},{"s":"D","t":85,"m":0.00092,"e":0.00003},{"s":"D","t":90,"m":0.00092,"e":0.00003},{"s":"D","t":95,"m":0.00092,"e":0.00003},{"s":"D","t":100,"m":0.00092,"e":0.00003},{"s":"D","t":105,"m":0.00092,"e":0.00003},{"s":"D","t":110,"m":0.00092,"e":0.00003},{"s":"D","t":115,"m":0.00092,"e":0.00003},{"s":"D","t":120,"m":0.00092,"e":0.00003},{"s":"D","t":125,"m":0.00087,"e":0.00003},{"s":"D","t":130,"m":0.00068,"e":0.00003},{"s":"D","t":135,"m":0.00068,"e":0.00003},{"s":"D","t":140,"m":0.00068,"e":0.00003},{"s":"D","t":145,"m":0.00068,"e":0.00003},{"s":"D","t":150,"m":0.00068,"e":0.00003},{"s":"D","t":155,"m":0.00068,"e":0.00003},{"s":"D","t":160,"m":0.00068,"e":0.00003},{"s":"D","t":165,"m":0.00066,"e":0.00003},{"s":"D","t":170,"m":0.00066,"e":0.00003},{"s":"D","t":175,"m":0.00066,"e":0.00003},{"s":"D","t":180,"m":0.00066,"e":0.00003},{"s":"D","t":185,"m":0.00066,"e":0.00003},{"s":"D","t":190,"m":0.00066,"e":0.00003},{"s":"D","t":195,"m":0.00066,"e":0.00003},{"s":"D","t":200,"m":0.00066,"e":0.00003},
{"s":"A","t":0,"m":0.00379,"e":0.0004},{"s":"A","t":5,"m":0.00338,"e":0.0003},{"s":"A","t":10,"m":0.00338,"e":0.0003},{"s":"A","t":15,"m":0.00338,"e":0.0003},{"s":"A","t":20,"m":0.00338,"e":0.0003},{"s":"A","t":25,"m":0.00338,"e":0.00035},{"s":"A","t":30,"m":0.00338,"e":0.0003},{"s":"A","t":35,"m":0.00338,"e":0.0003},{"s":"A","t":40,"m":0.00338,"e":0.0003},{"s":"A","t":45,"m":0.00338,"e":0.0003},{"s":"A","t":50,"m":0.00338,"e":0.0003},{"s":"A","t":55,"m":0.00338,"e":0.0003},{"s":"A","t":60,"m":0.00338,"e":0.0003},{"s":"A","t":65,"m":0.00338,"e":0.0004},{"s":"A","t":70,"m":0.00338,"e":0.00045},{"s":"A","t":75,"m":0.00338,"e":0.0003},{"s":"A","t":80,"m":0.00338,"e":0.0003},{"s":"A","t":85,"m":0.00338,"e":0.0003},{"s":"A","t":90,"m":0.00338,"e":0.0003},{"s":"A","t":95,"m":0.00338,"e":0.0003},{"s":"A","t":100,"m":0.00338,"e":0.0002},{"s":"A","t":105,"m":0.00338,"e":0.0003},{"s":"A","t":110,"m":0.00338,"e":0.0003},{"s":"A","t":115,"m":0.00338,"e":0.0003},{"s":"A","t":120,"m":0.00325,"e":0.0003},{"s":"A","t":125,"m":0.00298,"e":0.0005},{"s":"A","t":130,"m":0.00242,"e":0.0002},{"s":"A","t":135,"m":0.00236,"e":0.0002},{"s":"A","t":140,"m":0.0023,"e":0.0002},{"s":"A","t":145,"m":0.00236,"e":0.00025},{"s":"A","t":150,"m":0.0023,"e":0.0002},{"s":"A","t":155,"m":0.0023,"e":0.0002},{"s":"A","t":160,"m":0.0023,"e":0.0002},{"s":"A","t":165,"m":0.0023,"e":0.0002},{"s":"A","t":170,"m":0.0023,"e":0.0002},{"s":"A","t":175,"m":0.00224,"e":0.0002},{"s":"A","t":180,"m":0.00224,"e":0.0002},{"s":"A","t":185,"m":0.00224,"e":0.0002},{"s":"A","t":190,"m":0.00224,"e":0.0002},{"s":"A","t":195,"m":0.00224,"e":0.0002},{"s":"A","t":200,"m":0.00224,"e":0.0002},
{"s":"L","t":0,"m":0.00103,"e":0.00004},{"s":"L","t":5,"m":0.00093,"e":0.00003},{"s":"L","t":10,"m":0.00093,"e":0.00003},{"s":"L","t":15,"m":0.00093,"e":0.00003},{"s":"L","t":20,"m":0.00093,"e":0.00003},{"s":"L","t":25,"m":0.00089,"e":0.00003},{"s":"L","t":30,"m":0.00089,"e":0.00003},{"s":"L","t":35,"m":0.00089,"e":0.00003},{"s":"L","t":40,"m":0.00093,"e":0.00003},{"s":"L","t":45,"m":0.00089,"e":0.00003},{"s":"L","t":50,"m":0.00089,"e":0.00003},{"s":"L","t":55,"m":0.00089,"e":0.00003},{"s":"L","t":60,"m":0.00093,"e":0.00003},{"s":"L","t":65,"m":0.00093,"e":0.00003},{"s":"L","t":70,"m":0.00093,"e":0.00003},{"s":"L","t":75,"m":0.00093,"e":0.00003},{"s":"L","t":80,"m":0.00093,"e":0.00003},{"s":"L","t":85,"m":0.00089,"e":0.00003},{"s":"L","t":90,"m":0.00093,"e":0.00003},{"s":"L","t":95,"m":0.00089,"e":0.00003},{"s":"L","t":100,"m":0.00093,"e":0.00003},{"s":"L","t":105,"m":0.00093,"e":0.00003},{"s":"L","t":110,"m":0.00089,"e":0.00003},{"s":"L","t":115,"m":0.00093,"e":0.00003},{"s":"L","t":120,"m":0.00093,"e":0.00003},{"s":"L","t":125,"m":0.00087,"e":0.00003},{"s":"L","t":130,"m":0.00069,"e":0.00003},{"s":"L","t":135,"m":0.00069,"e":0.00003},{"s":"L","t":140,"m":0.00069,"e":0.00003},{"s":"L","t":145,"m":0.00069,"e":0.00003},{"s":"L","t":150,"m":0.00069,"e":0.00003},{"s":"L","t":155,"m":0.00064,"e":0.00003},{"s":"L","t":160,"m":0.00069,"e":0.00003},{"s":"L","t":165,"m":0.00066,"e":0.00003},{"s":"L","t":170,"m":0.00066,"e":0.00003},{"s":"L","t":175,"m":0.00066,"e":0.00003},{"s":"L","t":180,"m":0.00066,"e":0.00003},{"s":"L","t":185,"m":0.00066,"e":0.00003},{"s":"L","t":190,"m":0.00066,"e":0.00003},{"s":"L","t":195,"m":0.00066,"e":0.00003},{"s":"L","t":200,"m":0.00066,"e":0.00003}
]
},
"columns": 2,
"spacing": {"row": 133, "column": 148},
"bounds": "flush",
"resolve": {"scale": {"x": "independent", "y": "independent", "color": "shared", "fill": "shared"}},
"concat": [
{"title": "Dos Santos", "width": 508, "height": 160, "data": {"name": "DS"},
 "encoding": {"x": {"field": "t", "type": "quantitative", "scale": {"domain": [-10, 210], "nice": false, "zero": false}, "axis": {"title": "Time (weeks)", "values": [0,25,50,75,100,125,150,175,200]}},
   "y": {"field": "m", "type": "quantitative", "scale": {"domain": [-0.0042, 0.0296], "nice": false, "zero": false}, "axis": {"title": "Avg RMSE", "values": [0, 0.01, 0.02], "format": ".2f"}}},
 "layer": [
  {"mark": {"type": "errorbar", "ticks": false, "thickness": 2.2, "opacity": 0.2}, "encoding": {"yError": {"field": "e"}, "color": {"field": "s", "type": "nominal", "scale": {"domain": ["L","A","D","H"], "range": ["#0000ff","#ff0000","#000000","#008000"]}, "legend": null}}},
  {"mark": {"type": "point", "filled": true, "size": 28, "opacity": 1, "strokeWidth": 0}, "encoding": {"fill": {"field": "s", "type": "nominal", "scale": {"domain": ["H","D","A","L"], "range": ["#008000","#000000","#ff0000","#0000ff"]}, "legend": {"orient": "none", "legendX": 703, "legendY": 639, "title": null, "labelExpr": "datum.label == 'H' ? 'Healthy' : datum.label == 'D' ? 'Dead' : datum.label == 'A' ? 'Acute Infected (A1)' : 'Latent Infected (A2)'"}}}}
 ]},
{"title": "Gonzalez", "width": 508, "height": 160, "data": {"name": "GZ"},
 "encoding": {"x": {"field": "t", "type": "quantitative", "scale": {"domain": [-10, 210], "nice": false, "zero": false}, "axis": {"title": "Time (weeks)", "values": [0,25,50,75,100,125,150,175,200]}},
   "y": {"field": "m", "type": "quantitative", "scale": {"domain": [-2.17, 11.74], "nice": false, "zero": false}, "axis": {"title": "Avg RMSE", "values": [0, 5, 10], "format": "d"}}},
 "layer": [
  {"mark": {"type": "errorbar", "ticks": false, "thickness": 2.2, "opacity": 0.2}, "encoding": {"yError": {"field": "e"}, "color": {"field": "s", "type": "nominal", "scale": {"domain": ["L","A","D","H"], "range": ["#0000ff","#ff0000","#000000","#008000"]}, "legend": null}}},
  {"mark": {"type": "point", "filled": true, "size": 28, "opacity": 1, "strokeWidth": 0}, "encoding": {"fill": {"field": "s", "type": "nominal", "scale": {"domain": ["H","D","A","L"], "range": ["#008000","#000000","#ff0000","#0000ff"]}, "legend": {"orient": "none", "legendX": 703, "legendY": 639, "title": null, "labelExpr": "datum.label == 'H' ? 'Healthy' : datum.label == 'D' ? 'Dead' : datum.label == 'A' ? 'Acute Infected (A1)' : 'Latent Infected (A2)'"}}}}
 ]},
{"title": "Moonchai", "width": 508, "height": 160, "data": {"name": "MC"},
 "encoding": {"x": {"field": "t", "type": "quantitative", "scale": {"domain": [-10, 210], "nice": false, "zero": false}, "axis": {"title": "Time (weeks)", "values": [0,25,50,75,100,125,150,175,200]}},
   "y": {"field": "m", "type": "quantitative", "scale": {"domain": [0.000274, 0.001228], "nice": false, "zero": false}, "axis": {"title": "Avg RMSE", "values": [0.0005, 0.00075, 0.001], "format": ".5f"}}},
 "layer": [
  {"mark": {"type": "errorbar", "ticks": false, "thickness": 2.2, "opacity": 0.2}, "encoding": {"yError": {"field": "e"}, "color": {"field": "s", "type": "nominal", "scale": {"domain": ["L","A","D","H"], "range": ["#0000ff","#ff0000","#000000","#008000"]}, "legend": null}}},
  {"mark": {"type": "point", "filled": true, "size": 28, "opacity": 1, "strokeWidth": 0}, "encoding": {"fill": {"field": "s", "type": "nominal", "scale": {"domain": ["H","D","A","L"], "range": ["#008000","#000000","#ff0000","#0000ff"]}, "legend": {"orient": "none", "legendX": 703, "legendY": 639, "title": null, "labelExpr": "datum.label == 'H' ? 'Healthy' : datum.label == 'D' ? 'Dead' : datum.label == 'A' ? 'Acute Infected (A1)' : 'Latent Infected (A2)'"}}}}
 ]},
{"title": "Precharattana", "width": 508, "height": 160, "data": {"name": "PR"},
 "encoding": {"x": {"field": "t", "type": "quantitative", "scale": {"domain": [-10, 210], "nice": false, "zero": false}, "axis": {"title": "Time (weeks)", "values": [0,25,50,75,100,125,150,175,200]}},
   "y": {"field": "m", "type": "quantitative", "scale": {"domain": [0.0000555, 0.000786], "nice": false, "zero": false}, "axis": {"title": "Avg RMSE", "values": [0.0002, 0.0004, 0.0006], "format": ".4f"}}},
 "layer": [
  {"mark": {"type": "errorbar", "ticks": false, "thickness": 2.2, "opacity": 0.2}, "encoding": {"yError": {"field": "e"}, "color": {"field": "s", "type": "nominal", "scale": {"domain": ["L","A","D","H"], "range": ["#0000ff","#ff0000","#000000","#008000"]}, "legend": null}}},
  {"mark": {"type": "point", "filled": true, "size": 28, "opacity": 1, "strokeWidth": 0}, "encoding": {"fill": {"field": "s", "type": "nominal", "scale": {"domain": ["H","D","A","L"], "range": ["#008000","#000000","#ff0000","#0000ff"]}, "legend": {"orient": "none", "legendX": 703, "legendY": 639, "title": null, "labelExpr": "datum.label == 'H' ? 'Healthy' : datum.label == 'D' ? 'Dead' : datum.label == 'A' ? 'Acute Infected (A1)' : 'Latent Infected (A2)'"}}}}
 ]},
{"title": "Rana", "width": 508, "height": 160, "data": {"name": "RN"},
 "encoding": {"x": {"field": "t", "type": "quantitative", "scale": {"domain": [-10, 210], "nice": false, "zero": false}, "axis": {"title": "Time (weeks)", "values": [0,25,50,75,100,125,150,175,200]}},
   "y": {"field": "m", "type": "quantitative", "scale": {"domain": [0.00032, 0.00629], "nice": false, "zero": false}, "axis": {"title": "Avg RMSE", "values": [0.002, 0.004, 0.006], "format": ".3f"}}},
 "layer": [
  {"mark": {"type": "errorbar", "ticks": false, "thickness": 2.2, "opacity": 0.2}, "encoding": {"yError": {"field": "e"}, "color": {"field": "s", "type": "nominal", "scale": {"domain": ["L","A","D","H"], "range": ["#0000ff","#ff0000","#000000","#008000"]}, "legend": null}}},
  {"mark": {"type": "point", "filled": true, "size": 28, "opacity": 1, "strokeWidth": 0}, "encoding": {"fill": {"field": "s", "type": "nominal", "scale": {"domain": ["H","D","A","L"], "range": ["#008000","#000000","#ff0000","#0000ff"]}, "legend": {"orient": "none", "legendX": 703, "legendY": 639, "title": null, "labelExpr": "datum.label == 'H' ? 'Healthy' : datum.label == 'D' ? 'Dead' : datum.label == 'A' ? 'Acute Infected (A1)' : 'Latent Infected (A2)'"}}}}
 ]}
],
"config": {
 "font": "DejaVu Sans",
 "view": {"stroke": "black", "strokeWidth": 1.2},
 "axis": {"domain": false, "grid": false, "tickColor": "black", "tickSize": 6, "tickWidth": 1.2, "labelPadding": 3, "labelFont": "DejaVu Sans", "labelFontSize": 17, "labelColor": "black", "labelFlush": false, "labelOverlap": false, "titleFont": "DejaVu Sans", "titleFontSize": 17, "titleFontWeight": "normal", "titleColor": "black", "titlePadding": 8},
 "axisY": {"labelPadding": 5, "titlePadding": 7},
 "title": {"font": "DejaVu Sans", "fontSize": 20.5, "fontWeight": "normal", "color": "black", "offset": 7, "baseline": "alphabetic"},
 "legend": {"symbolType": "M-1,-0.36H1V0.36H-1Z", "symbolSize": 1296, "symbolStrokeWidth": 0, "symbolOpacity": 1, "symbolOffset": 7, "strokeColor": "#d0d0d0", "cornerRadius": 4, "padding": 2, "fillColor": "white", "labelFont": "DejaVu Sans", "labelFontSize": 17, "labelColor": "black", "labelOffset": 12, "labelLimit": 0, "rowPadding": 0}
}
}
